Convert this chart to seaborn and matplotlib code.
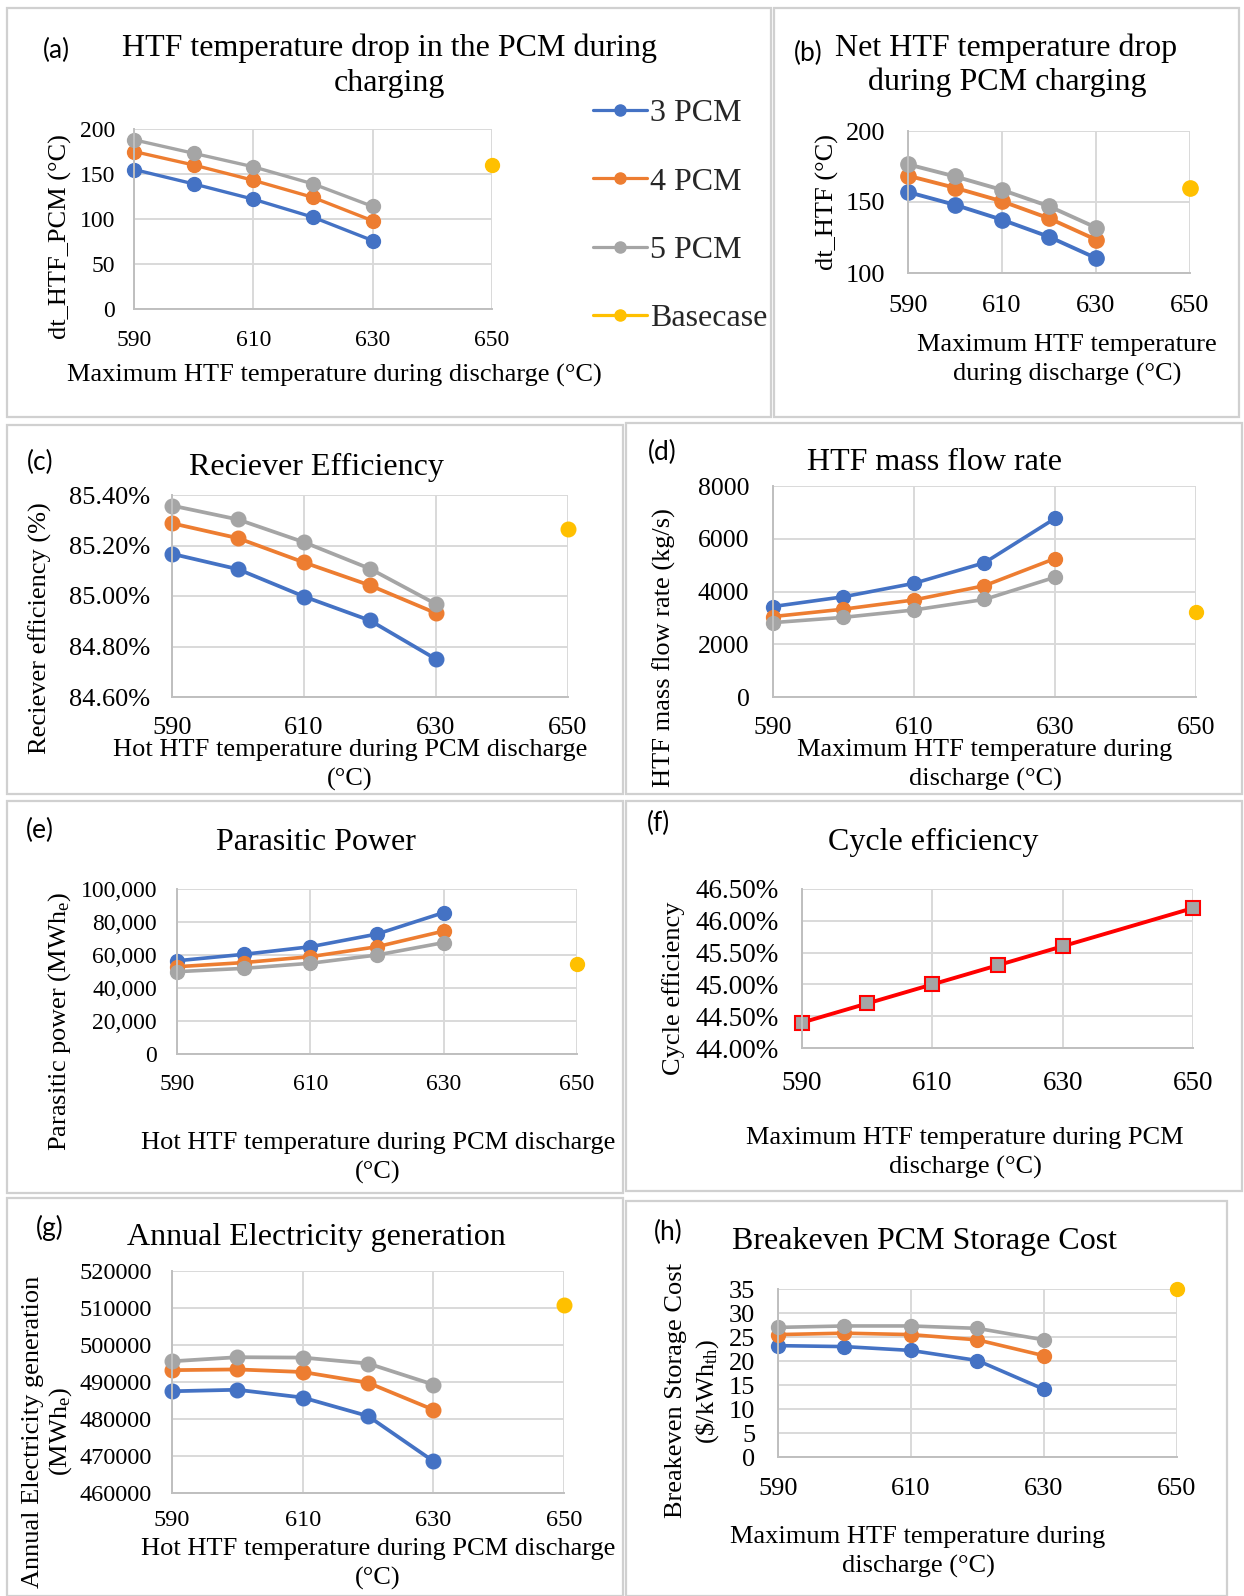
import matplotlib
matplotlib.use("Agg")
import matplotlib.pyplot as plt
import seaborn as sns
from matplotlib.patches import Rectangle
from matplotlib.lines import Line2D
from matplotlib.ticker import FuncFormatter

# ---------------- data ----------------
temps = [590, 600, 610, 620, 630]
base_temp = [650]
series_names = ["3 PCM", "4 PCM", "5 PCM"]
base_name = "Basecase"

dt_pcm_3 = [155, 139, 122, 102, 76]
dt_pcm_4 = [175, 160, 143, 124, 98]
dt_pcm_5 = [188, 173, 158, 139, 114]
dt_pcm_base = [160]

dt_htf_3 = [157, 148, 137.5, 125.5, 110.5]
dt_htf_4 = [168.5, 160, 150.5, 138.5, 123.5]
dt_htf_5 = [176.5, 168, 158.5, 147, 132]
dt_htf_base = [160]

rec_eff_3 = [85.167, 85.106, 84.998, 84.903, 84.750]
rec_eff_4 = [85.288, 85.229, 85.133, 85.042, 84.932]
rec_eff_5 = [85.358, 85.303, 85.213, 85.108, 84.968]
rec_eff_base = [85.267]

mdot_3 = [3430, 3800, 4310, 5090, 6770]
mdot_4 = [3050, 3330, 3680, 4220, 5250]
mdot_5 = [2820, 3020, 3300, 3700, 4540]
mdot_base = [3240]

parasitic_3 = [56500, 60400, 65000, 72700, 85700]
parasitic_4 = [52900, 55400, 59000, 65000, 74500]
parasitic_5 = [49900, 51900, 55000, 60000, 67500]
parasitic_base = [54500]

cycle_temps = [590, 600, 610, 620, 630, 650]
cycle_eff = [44.4, 44.7, 45.0, 45.3, 45.6, 46.2]

annual_3 = [487500, 487900, 485800, 480800, 468600]
annual_4 = [493200, 493400, 492700, 489800, 482500]
annual_5 = [495600, 496700, 496600, 495000, 489300]
annual_base = [510900]

cost_3 = [23.2, 23.0, 22.2, 20.1, 14.1]
cost_4 = [25.5, 25.8, 25.5, 24.4, 21.1]
cost_5 = [27.0, 27.3, 27.3, 26.8, 24.4]
cost_base = [35]

x_ticks = [590, 610, 630, 650]

# ---------------- style ----------------
sns.set_style("white")
SERIF = ["Liberation Serif", "DejaVu Serif"]
plt.rcParams["font.family"] = SERIF
plt.rcParams["mathtext.fontset"] = "custom"
plt.rcParams["mathtext.rm"] = "Liberation Serif"
plt.rcParams["mathtext.it"] = "Liberation Serif:italic"
plt.rcParams["mathtext.bf"] = "Liberation Serif:bold"
plt.rcParams["axes.formatter.use_mathtext"] = False

BLUE, ORANGE, GRAY, YELLOW = "#4472C4", "#ED7D31", "#A5A5A5", "#FFC000"
SERIES_COLORS = [BLUE, ORANGE, GRAY]
GRID = "#D9D9D9"
TXT = "#000000"

W, H = 1244, 1596
fig = plt.figure(figsize=(W / 100, H / 100), dpi=100)
fig.patch.set_facecolor("white")


def fx(x):
    return x / W


def fy(y):
    return 1 - y / H


def box(x0, y0, x1, y1):
    fig.add_artist(Rectangle((fx(x0), fy(y1)), (x1 - x0) / W, (y1 - y0) / H,
                             transform=fig.transFigure, fill=False,
                             edgecolor="#D0D0D0", linewidth=1.6))


def make_ax(rect, ylim, yticks, tick_fs, ypad, xpad, fmt=None):
    x0, y0, x1, y1 = rect
    ax = fig.add_axes([fx(x0), fy(y1), (x1 - x0) / W, (y1 - y0) / H])
    ax.set_xlim(590, 650)
    ax.set_xticks(x_ticks)
    ax.set_ylim(*ylim)
    ax.set_yticks(yticks)
    ax.xaxis.set_major_formatter(FuncFormatter(lambda v, p: f"{v:.0f}"))
    if fmt is None:
        fmt = lambda v, p: f"{v:.0f}"
    ax.yaxis.set_major_formatter(FuncFormatter(fmt))
    ax.grid(True, color=GRID, linewidth=1.4)
    ax.set_axisbelow(True)
    for s in ["top", "right"]:
        ax.spines[s].set_visible(False)
    for s in ["left", "bottom"]:
        ax.spines[s].set_color("#BFBFBF")
        ax.spines[s].set_linewidth(1.4)
    ax.tick_params(axis="both", length=0, labelsize=tick_fs, colors=TXT,
                   labelfontfamily="Liberation Serif")
    ax.tick_params(axis="y", pad=ypad)
    ax.tick_params(axis="x", pad=xpad)
    ax.set_facecolor("white")
    return ax


def finish_lines(ax, ms, mew=1.0):
    for ln in ax.lines:
        ln.set_clip_on(False)
        ln.set_markersize(ms)
        ln.set_markeredgewidth(mew)


def draw_series(ax, ys, base, ms=10, lw=2.6):
    for name, y, c in zip(series_names, ys, SERIES_COLORS):
        sns.lineplot(x=temps, y=y, ax=ax, color=c, marker="o",
                     markeredgecolor=c, linewidth=lw, label=name)
    sns.lineplot(x=base_temp, y=base, ax=ax, color=YELLOW, marker="o",
                 markeredgecolor=YELLOW, linewidth=lw, label=base_name)
    leg = ax.get_legend()
    if leg is not None:
        leg.remove()
    finish_lines(ax, ms)


def labels(ax, xlabel, xpos, ylabel, ypos, fs=19, ls=1.35, yls=1.35):
    ax.set_xlabel(xlabel, fontsize=fs, color=TXT, linespacing=ls)
    ax.xaxis.set_label_coords(fx(xpos[0]), fy(xpos[1]), transform=fig.transFigure)
    ax.xaxis.label.set_va("center")
    ax.set_ylabel(ylabel, fontsize=fs, color=TXT, linespacing=yls)
    ax.yaxis.set_label_coords(fx(ypos[0]), fy(ypos[1]), transform=fig.transFigure)
    ax.yaxis.label.set_va("center")


def title(text, x, y, fs=23):
    fig.text(fx(x), fy(y), text, ha="center", va="center", fontsize=fs, color=TXT)


def letter(text, x, y, fs=19):
    fig.text(fx(x), fy(y), text, ha="center", va="center", fontsize=fs, color=TXT,
             family=["Lato", "DejaVu Sans"])


# panel borders
box(7, 8, 771, 417)
box(774, 8, 1239, 417)
box(7, 425, 623, 794)
box(626, 423, 1242, 794)
box(7, 801, 623, 1193)
box(626, 801, 1242, 1191)
box(7, 1198, 623, 1596)
box(626, 1201, 1227, 1596)

# ---------------- (a) ----------------
ax = make_ax((134, 129, 492, 309), (0, 200), [0, 50, 100, 150, 200], 17, 13.5, 15)
draw_series(ax, [dt_pcm_3, dt_pcm_4, dt_pcm_5], dt_pcm_base, ms=10, lw=2.4)
labels(ax, "Maximum HTF temperature during discharge (°C)", (334, 375),
       "dt_HTF_PCM (°C)", (60, 237))
title("HTF temperature drop in the PCM during", 389, 48)
title("charging", 389, 83)
letter("(a)", 56, 50)
legend_handles = [Line2D([], [], color=c, marker="o", markersize=8, linewidth=2.3,
                         markeredgecolor=c)
                  for c in SERIES_COLORS + [YELLOW]]
fig.legend(legend_handles, series_names + [base_name], loc="center left",
           bbox_to_anchor=(fx(593), fy(216)), frameon=False, fontsize=23,
           handlelength=1.7, handletextpad=0.1, labelspacing=1.22,
           borderpad=0, borderaxespad=0)

# ---------------- (b) ----------------
ax = make_ax((908, 131, 1190, 273), (100, 200), [100, 150, 200], 19, 16.5, 16)
draw_series(ax, [dt_htf_3, dt_htf_4, dt_htf_5], dt_htf_base, ms=11, lw=2.8)
labels(ax, "Maximum HTF temperature\nduring discharge (°C)", (1067, 360),
       "dt_HTF (°C)", (827, 202), ls=1.4)
title("Net HTF temperature drop", 1006, 48)
title("during PCM charging", 1007, 82)
letter("(b)", 808, 53)

# ---------------- (c) ----------------
ax = make_ax((172, 495, 568, 697), (84.6, 85.4), [84.6, 84.8, 85.0, 85.2, 85.4], 19, 16, 14.5,
             fmt=lambda v, p: f"{v:.2f}%")
draw_series(ax, [rec_eff_3, rec_eff_4, rec_eff_5], rec_eff_base, ms=10.5, lw=2.7)
labels(ax, "Hot HTF temperature during PCM discharge\n(°C)", (350, 765),
       "Reciever efficiency (%)", (40, 628))
title("Reciever Efficiency", 316, 467)
letter("(c)", 40, 462)

# ---------------- (d) ----------------
ax = make_ax((773, 486, 1196, 697), (0, 8000), [0, 2000, 4000, 6000, 8000], 18.5, 17, 14.5)
draw_series(ax, [mdot_3, mdot_4, mdot_5], mdot_base, ms=10)
labels(ax, "Maximum HTF temperature during\ndischarge (°C)", (985, 765),
       "HTF mass flow rate (kg/s)", (664, 648))
title("HTF mass flow rate", 934, 463)
letter("(d)", 662, 452)

# ---------------- (e) ----------------
ax = make_ax((177, 889, 577, 1054), (0, 100000), [0, 20000, 40000, 60000, 80000, 100000],
             17, 14.4, 14.4, fmt=lambda v, p: f"{v:,.0f}")
draw_series(ax, [parasitic_3, parasitic_4, parasitic_5], parasitic_base, ms=10)
labels(ax, "Hot HTF temperature during PCM discharge\n(°C)", (378, 1158),
       r"Parasitic power (MWh$_\mathrm{e}$)", (60, 1022))
title("Parasitic Power", 316, 842)
letter("(e)", 40, 830)

# ---------------- (f) ----------------
ax = make_ax((802, 889, 1193, 1048), (44.0, 46.5), [44.0, 44.5, 45.0, 45.5, 46.0, 46.5],
             19.5, 16.5, 16.5, fmt=lambda v, p: f"{v:.2f}%")
sns.lineplot(x=cycle_temps, y=cycle_eff, ax=ax, color="#FF0000", linewidth=2.8,
             marker="s", markerfacecolor=GRAY, markeredgecolor="#FF0000")
finish_lines(ax, ms=10.5, mew=1.5)
labels(ax, "Maximum HTF temperature during PCM\ndischarge (°C)", (965, 1153),
       "Cycle efficiency", (674, 988))
title("Cycle efficiency", 933, 842)
letter("(f)", 658, 823)

# ---------------- (g) ----------------
ax = make_ax((172, 1271, 564, 1493), (460000, 520000),
             [460000, 470000, 480000, 490000, 500000, 510000, 520000], 17.5, 14.4, 12.5)
draw_series(ax, [annual_3, annual_4, annual_5], annual_base, ms=10.5, lw=2.7)
labels(ax, "Hot HTF temperature during PCM discharge\n(°C)", (378, 1564),
       "Annual Electricity generation\n" + r"(MWh$_\mathrm{e}$)", (48, 1432), yls=1.2)
title("Annual Electricity generation", 316, 1238)
letter("(g)", 50, 1228)

# ---------------- (h) ----------------
ax = make_ax((778, 1289, 1177, 1457), (0, 35), [0, 5, 10, 15, 20, 25, 30, 35], 19, 16.5, 15)
draw_series(ax, [cost_3, cost_4, cost_5], cost_base, ms=10)
labels(ax, "Maximum HTF temperature during\ndischarge (°C)", (918, 1552),
       "Breakeven Storage Cost\n" + r"(\$/kWh$_\mathrm{th}$)", (693, 1391), yls=1.3)
title("Breakeven PCM Storage Cost", 925, 1242)
letter("(h)", 668, 1232)

fig.savefig("out.png", dpi=100, facecolor="white")
